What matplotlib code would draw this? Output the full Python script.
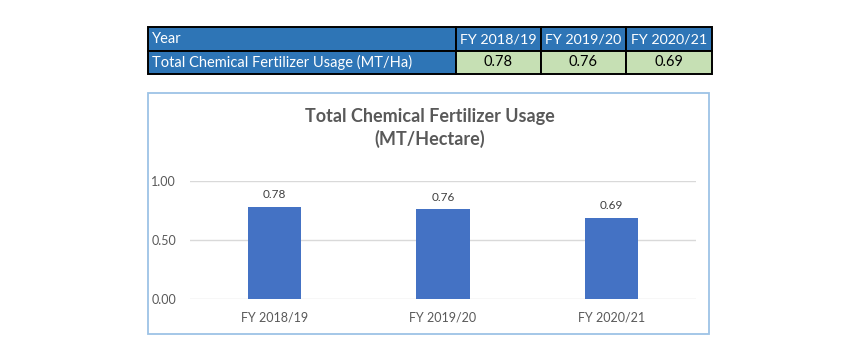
import matplotlib.pyplot as plt
from matplotlib.patches import Rectangle

years = ['FY 2018/19', 'FY 2019/20', 'FY 2020/21']
usage = [0.78, 0.76, 0.69]
row_labels = ['Year', 'Total Chemical Fertilizer Usage (MT/Ha)']
yticks = [0.0, 0.5, 1.0]

W, H = 862, 360
plt.rcParams['font.family'] = ['Lato', 'DejaVu Sans']

fig = plt.figure(figsize=(W / 100, H / 100), dpi=100)


def fx(x):
    return x / W


def fy(y):
    return 1 - y / H


# table on top
col_edges = [148, 456, 541, 626, 712]
row_edges = [27, 51, 74]
blue = '#2E75B6'
green = '#C6E0B4'
for r in range(2):
    for c in range(4):
        x0, x1 = col_edges[c], col_edges[c + 1]
        y0, y1 = row_edges[r], row_edges[r + 1]
        face = green if (r == 1 and c > 0) else blue
        fig.patches.append(Rectangle((fx(x0), fy(y1)), fx(x1 - x0), (y1 - y0) / H,
                                     transform=fig.transFigure, facecolor=face,
                                     edgecolor='black', linewidth=1.4))
        yc = fy((y0 + y1) / 2)
        if c == 0:
            fig.text(fx(x0 + 4), yc, row_labels[r], color='white', fontsize=10.5,
                     ha='left', va='center')
        elif r == 0:
            fig.text(fx((x0 + x1) / 2), yc, years[c - 1], color='white', fontsize=10.3,
                     ha='center', va='center')
        else:
            fig.text(fx((x0 + x1) / 2), yc, f'{usage[c - 1]:.2f}', color='black',
                     fontsize=10.5, ha='center', va='center')

# chart frame
fig.patches.append(Rectangle((fx(148), fy(334)), fx(709 - 148), (334 - 93) / H,
                             transform=fig.transFigure, facecolor='none',
                             edgecolor='#9DC3E6', linewidth=1.3))

fig.text(fx(430), fy(117), 'Total Chemical Fertilizer Usage', ha='center', va='center',
         fontsize=13, fontweight='bold', color='#595959')
fig.text(fx(430), fy(139), '(MT/Hectare)', ha='center', va='center',
         fontsize=13, fontweight='bold', color='#595959')

ax = fig.add_axes([fx(190), fy(299), fx(696 - 190), (299 - 181) / H])
ax.set_facecolor('none')
x = range(len(years))
bars = ax.bar(x, usage, width=0.315, color='#4472C4', zorder=3)
for xi, v in zip(x, usage):
    ax.text(xi, v + 0.055, f'{v:.2f}', ha='center', va='bottom', fontsize=8.5, color='#404040')

ax.set_xlim(-0.5, 2.5)
ax.set_ylim(0, 1.0)
ax.set_yticks(yticks)
ax.set_yticklabels([f'{t:.2f}' for t in yticks])
ax.set_xticks(list(x))
ax.set_xticklabels(years)
ax.grid(axis='y', color='#D9D9D9', linewidth=1, zorder=0)
for s in ax.spines.values():
    s.set_visible(False)
ax.tick_params(axis='both', length=0, colors='#595959', labelsize=9)
ax.tick_params(axis='y', pad=10)
ax.tick_params(axis='x', pad=9)

fig.savefig('out.png', dpi=100)
